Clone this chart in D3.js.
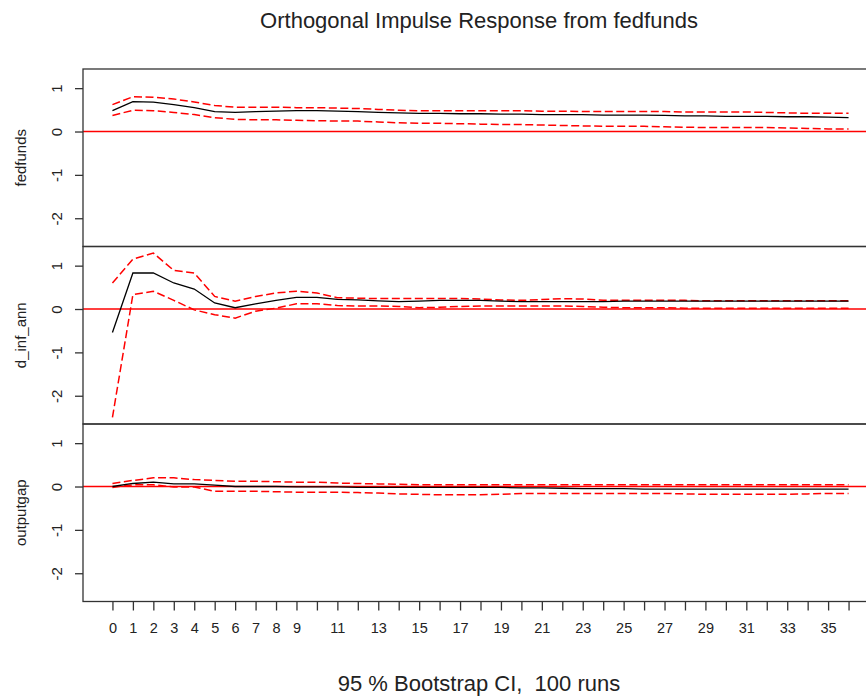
<!DOCTYPE html>
<html>
<head>
<meta charset="utf-8">
<script src="https://cdn.jsdelivr.net/npm/d3@7"></script>
<style>
  html, body { margin: 0; padding: 0; background: #fff; }
  svg { display: block; }
  text { font-family: "Liberation Sans", Arial, sans-serif; fill: #222; }
</style>
</head>
<body>
<svg id="chart" width="866" height="698"></svg>
<script>
// Horizons 0..36
const horizons = d3.range(0, 37);

// Panel variable names
const variables = ["fedfunds", "d_inf_ann", "outputgap"];

// Point estimates of the impulse response
const irfFedfunds = [0.48,0.69,0.68,0.62,0.55,0.46,0.44,0.46,0.47,0.48,0.48,0.47,0.46,0.44,0.43,0.42,0.42,0.41,0.41,0.40,0.40,0.39,0.39,0.39,0.38,0.38,0.38,0.37,0.36,0.36,0.35,0.35,0.35,0.34,0.34,0.33,0.32];
const irfInf = [-0.54,0.83,0.83,0.60,0.46,0.14,0.03,0.12,0.20,0.27,0.27,0.22,0.21,0.19,0.17,0.18,0.20,0.20,0.20,0.18,0.17,0.17,0.17,0.17,0.17,0.18,0.18,0.18,0.18,0.18,0.18,0.18,0.18,0.18,0.18,0.18,0.18];
const irfGap = [0.00,0.07,0.10,0.06,0.06,0.03,0.00,0.00,0.00,-0.01,-0.01,-0.01,-0.02,-0.02,-0.02,-0.02,-0.02,-0.02,-0.02,-0.02,-0.03,-0.03,-0.04,-0.05,-0.05,-0.05,-0.06,-0.06,-0.06,-0.06,-0.06,-0.06,-0.06,-0.06,-0.06,-0.06,-0.06];

// Bootstrap upper bounds
const upperFedfunds = [0.62,0.80,0.79,0.75,0.68,0.60,0.56,0.56,0.56,0.55,0.55,0.54,0.53,0.51,0.49,0.48,0.48,0.48,0.48,0.48,0.48,0.47,0.47,0.46,0.46,0.46,0.46,0.46,0.45,0.45,0.45,0.45,0.44,0.43,0.42,0.42,0.42];
const upperInf = [0.60,1.15,1.29,0.89,0.83,0.29,0.18,0.29,0.37,0.41,0.37,0.26,0.25,0.24,0.24,0.24,0.24,0.24,0.23,0.21,0.20,0.22,0.24,0.23,0.20,0.20,0.20,0.20,0.20,0.19,0.19,0.19,0.19,0.19,0.19,0.19,0.19];
const upperGap = [0.07,0.14,0.20,0.20,0.16,0.14,0.12,0.12,0.11,0.10,0.10,0.08,0.07,0.06,0.05,0.04,0.04,0.04,0.04,0.04,0.04,0.04,0.04,0.04,0.04,0.04,0.04,0.04,0.04,0.04,0.04,0.04,0.04,0.04,0.04,0.04,0.04];

// Bootstrap lower bounds
const lowerFedfunds = [0.37,0.49,0.48,0.44,0.39,0.32,0.28,0.27,0.27,0.26,0.25,0.24,0.24,0.22,0.20,0.19,0.19,0.18,0.17,0.16,0.16,0.15,0.14,0.13,0.12,0.12,0.12,0.11,0.10,0.09,0.09,0.09,0.09,0.08,0.07,0.06,0.06];
const lowerInf = [-2.50,0.33,0.41,0.20,-0.02,-0.13,-0.21,-0.05,0.02,0.12,0.12,0.08,0.07,0.07,0.06,0.03,0.04,0.06,0.07,0.07,0.07,0.07,0.07,0.06,0.04,0.03,0.03,0.03,0.02,0.02,0.02,0.02,0.02,0.02,0.02,0.02,0.02];
const lowerGap = [-0.02,0.04,0.04,-0.01,-0.01,-0.11,-0.11,-0.11,-0.12,-0.13,-0.13,-0.13,-0.14,-0.15,-0.17,-0.18,-0.19,-0.19,-0.19,-0.18,-0.16,-0.16,-0.16,-0.16,-0.16,-0.16,-0.16,-0.16,-0.17,-0.18,-0.18,-0.18,-0.18,-0.18,-0.17,-0.16,-0.16];

// Axis tick values and labels
const yTicks = [1, 0, -1, -2];
const xTickLabels = ["0","1","2","3","4","5","6","7","8","9","11","13","15","17","19","21","23","25","27","29","31","33","35"];

const titleText = "Orthogonal Impulse Response from fedfunds";
const subText = "95 % Bootstrap CI,  100 runs";

const panels = [
  { name: variables[0], irf: irfFedfunds, upper: upperFedfunds, lower: lowerFedfunds },
  { name: variables[1], irf: irfInf, upper: upperInf, lower: lowerInf },
  { name: variables[2], irf: irfGap, upper: upperGap, lower: lowerGap }
];

const svg = d3.select("#chart");

// Layout
const plotLeft = 83;
const plotRight = 878;   // frame runs past the window edge
const panelTop = 69;
const panelH = 177.5;

// Shared y range over all bands, padded 4% each side
const allVals = [].concat(lowerFedfunds, lowerInf, lowerGap, upperFedfunds, upperInf, upperGap);
const yMin = d3.min(allVals), yMax = d3.max(allVals);
const pad = (yMax - yMin) * 0.04;

const x = d3.scaleLinear()
  .domain([horizons[0] - 36 * 0.04, horizons[horizons.length - 1] + 36 * 0.04])
  .range([plotLeft, plotRight]);

svg.append("text")
  .attr("x", 479).attr("y", 28)
  .attr("text-anchor", "middle")
  .style("font-size", "22px")
  .text(titleText);

panels.forEach((p, i) => {
  const top = panelTop + i * panelH;
  const y = d3.scaleLinear()
    .domain([yMin - pad, yMax + pad])
    .range([top + panelH, top]);

  const g = svg.append("g");

  // zero reference line
  g.append("line")
    .attr("x1", plotLeft).attr("x2", plotRight)
    .attr("y1", y(0)).attr("y2", y(0))
    .attr("stroke", "#ff0000").attr("stroke-width", 1.4);

  const line = d3.line().x((d, k) => x(horizons[k])).y(d => y(d));

  g.append("path").datum(p.upper)
    .attr("d", line).attr("fill", "none")
    .attr("stroke", "#ff0000").attr("stroke-width", 1.5)
    .attr("stroke-dasharray", "8,3.5");
  g.append("path").datum(p.lower)
    .attr("d", line).attr("fill", "none")
    .attr("stroke", "#ff0000").attr("stroke-width", 1.5)
    .attr("stroke-dasharray", "8,3.5");
  g.append("path").datum(p.irf)
    .attr("d", line).attr("fill", "none")
    .attr("stroke", "#000").attr("stroke-width", 1.3);

  // frame
  g.append("rect")
    .attr("x", plotLeft).attr("y", top)
    .attr("width", plotRight - plotLeft).attr("height", panelH)
    .attr("fill", "none").attr("stroke", "#333").attr("stroke-width", 1.3);

  // y axis (plain hyphen for negatives)
  const yAxis = d3.axisLeft(y).tickValues(yTicks).tickSize(8).tickPadding(0).tickFormat(d => String(d));
  const ya = g.append("g").attr("transform", `translate(${plotLeft},0)`).call(yAxis);
  ya.select(".domain").remove();
  ya.selectAll(".tick line").attr("stroke", "#333").attr("stroke-width", 1.3);
  ya.selectAll(".tick text")
    .attr("x", null).attr("dy", null)
    .attr("text-anchor", "middle")
    .attr("transform", "translate(-26,0) rotate(-90)")
    .attr("dy", "0.35em")
    .style("font-size", "15px")
    .style("font-family", "'Liberation Sans', Arial, sans-serif")
    .attr("fill", "#222");

  // panel label
  g.append("text")
    .attr("transform", `translate(26,${top + panelH / 2}) rotate(-90)`)
    .attr("text-anchor", "middle")
    .style("font-size", "15px")
    .text(p.name);

  if (i === panels.length - 1) {
    const xAxis = d3.axisBottom(x).tickValues(horizons).tickSize(9).tickPadding(12)
      .tickFormat(d => xTickLabels.includes(String(d)) ? String(d) : "");
    const xa = g.append("g").attr("transform", `translate(0,${top + panelH})`).call(xAxis);
    xa.select(".domain").remove();
    xa.selectAll(".tick line").attr("stroke", "#333").attr("stroke-width", 1.3);
    xa.selectAll(".tick text")
      .style("font-size", "14.5px")
      .style("font-family", "'Liberation Sans', Arial, sans-serif")
      .attr("fill", "#222");
  }
});

svg.append("text")
  .attr("x", 479).attr("y", 691)
  .attr("text-anchor", "middle")
  .attr("xml:space", "preserve")
  .style("white-space", "pre")
  .style("font-size", "22px")
  .text(subText);
</script>
</body>
</html>
